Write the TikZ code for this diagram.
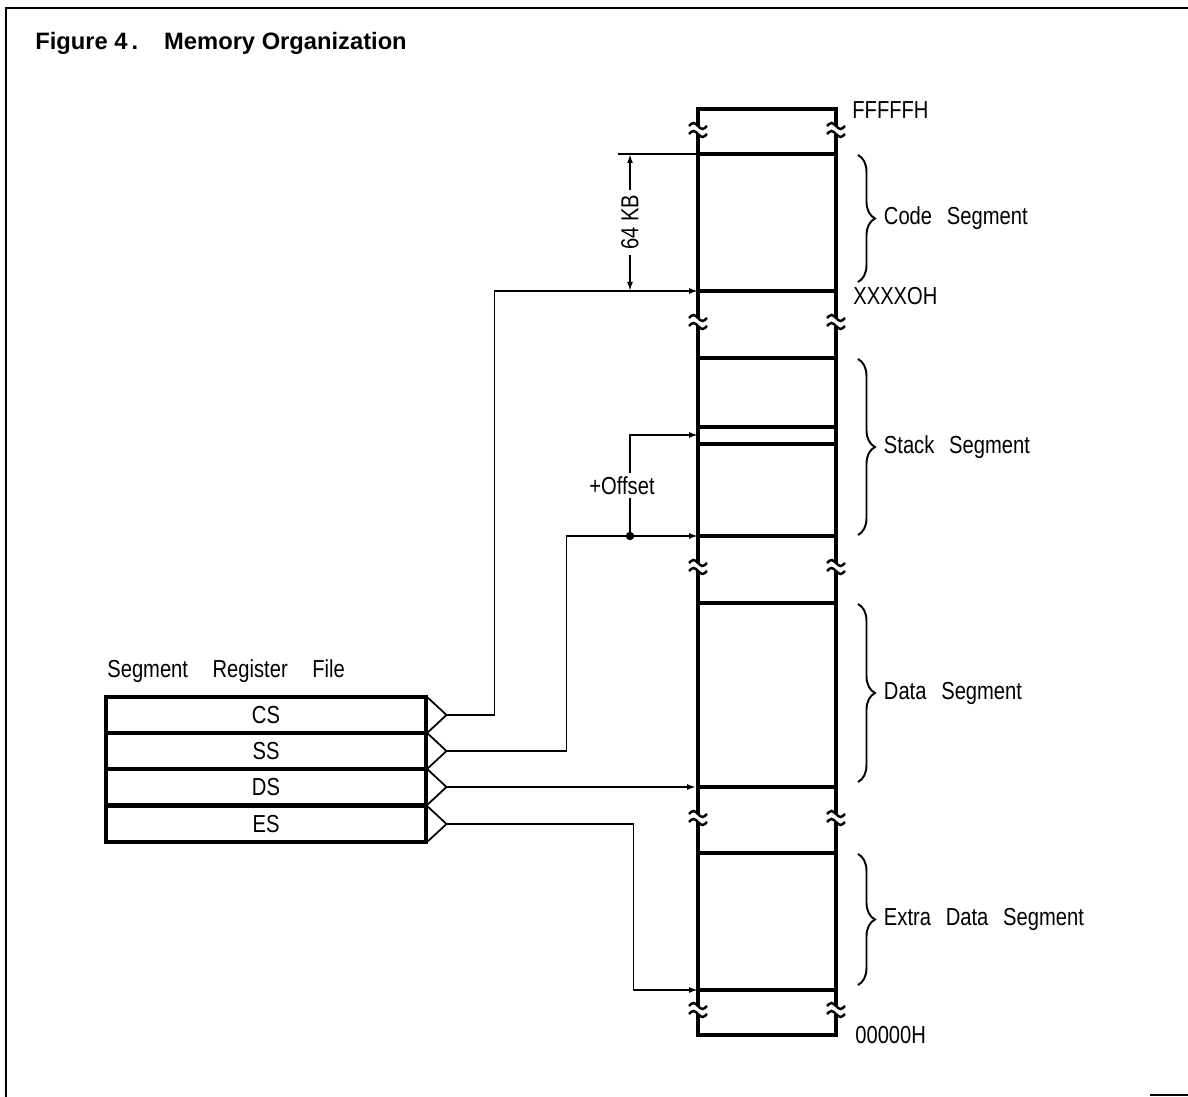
\documentclass[tikz,border=0pt]{standalone}
\usepackage{fontspec}
\setmainfont{Liberation Sans}
\newfontfamily\condfont[FakeStretch=0.82]{Liberation Sans}
\usetikzlibrary{arrows.meta,decorations.pathreplacing,calc}
\newcommand{\seggap}{\hspace{0.6em}}

\begin{document}
\begin{tikzpicture}[x=0.02cm,y=-0.02cm,
    font=\condfont\fontsize{14pt}{16pt}\selectfont,
    reg/.style={draw,line width=1.8pt,minimum width=6.4cm,minimum height=0.72cm,inner sep=0pt},
    conn/.style={line width=1pt},
    feed/.style={conn,-{Latex[length=1.8mm,width=1.2mm]}},
    memln/.style={line width=2pt},
    brc/.style={decorate,decoration={brace,amplitude=0.34cm},line width=1.1pt},
    seglbl/.style={anchor=west,inner sep=0pt,xshift=0.5cm},
    addr/.style={anchor=west,inner sep=0pt}]

  \useasboundingbox (0,0) rectangle (1188,1097);

  % page frame
  \draw[line width=1.1pt] (1188,8) -- (6,8) -- (6,1097);
  \draw[line width=1.1pt] (1150,1095) -- (1188,1095);
  \node[anchor=base west,inner sep=0pt,font=\fontsize{13.5pt}{16pt}\selectfont\bfseries]
    (title) at (35,50) {Figure 4\,.\hspace{1.1em}Memory Organization};

  % the memory column
  \node[draw,line width=2.2pt,minimum width=2.76cm,minimum height=18.52cm,inner sep=0pt]
    (mem) at (767,572) {};
  \foreach \y in {154,291,358,427,444,536,603,787,853,990}
    \draw[memln] (698,\y) -- (836,\y);

  % breaks in the address range
  \foreach \y in {130,322,567,818,1010}
    \foreach \x in {698,836} {
      \fill[white] (\x-5,\y-4) rectangle (\x+5,\y+4);
      \draw[line width=1.4pt] (\x-9,\y-4) sin (\x-4.5,\y-7) cos (\x,\y-4) sin (\x+4.5,\y-1) cos (\x+9,\y-4);
      \draw[line width=1.4pt] (\x-9,\y+4) sin (\x-4.5,\y+1) cos (\x,\y+4) sin (\x+4.5,\y+7) cos (\x+9,\y+4);
    }

  \node[addr] (ftop) at (852,110) {FFFFFH};
  \node[addr] (cbase) at (853,296) {XXXXOH};
  \node[addr] (zero) at (855,1035) {00000H};

  % segments
  \draw[brc] (858,155) -- (858,282) node[midway,seglbl] (codelbl) {Code\seggap Segment};
  \draw[brc] (858,359) -- (858,535) node[midway,seglbl] (stacklbl) {Stack\seggap Segment};
  \draw[brc] (858,604) -- (858,782) node[midway,seglbl] (datalbl) {Data\seggap Segment};
  \draw[brc] (858,854) -- (858,985) node[midway,seglbl] (extralbl) {Extra\seggap Data\seggap Segment};

  % segment register file
  \node[anchor=base west,inner sep=0pt] (rfile) at (107,678) {Segment\quad Register\quad File};
  \node[reg] (cs) at (266,715) {CS};
  \node[reg] (ss) at (266,751) {SS};
  \node[reg] (ds) at (266,787) {DS};
  \node[reg] (es) at (266,824) {ES};
  \foreach \r in {cs,ss,ds,es} {
    \coordinate (\r-tip) at ($(\r.east)+(19,0)$);
    \draw[conn] ($(\r.north east)+(0,2)$) -- (\r-tip) -- ($(\r.south east)+(0,-2)$);
  }

  \coordinate (codein) at (698,291);
  \coordinate (stackin) at (698,536);
  \coordinate (offsetin) at (698,435);
  \coordinate (extrain) at (698,990);
  \coordinate (tap) at (630,536);

  \draw[feed] (cs-tip) -- ++(48,0) |- (codein);
  \draw[feed] (ss-tip) -- ++(120,0) |- (stackin);
  \fill (tap) circle (2.4pt);
  \draw[feed] (tap) |- (offsetin) node[pos=0.25,fill=white,inner sep=2pt,xshift=-0.16cm] (offlbl) {+Offset};
  \draw[feed] (ds-tip) -- (ds-tip -| mem.west);
  \draw[feed] (es-tip) -- ++(187,0) |- (extrain);

  % size of one segment
  \draw[conn] (618,154) -- (698,154);
  \draw[conn,{Latex[length=1.8mm,width=1.2mm]}-{Latex[length=1.8mm,width=1.2mm]}]
    (630,154) -- (630,291) node[midway,fill=white,rotate=90,inner sep=3pt] (kb) {64 KB};
\end{tikzpicture}
\end{document}
